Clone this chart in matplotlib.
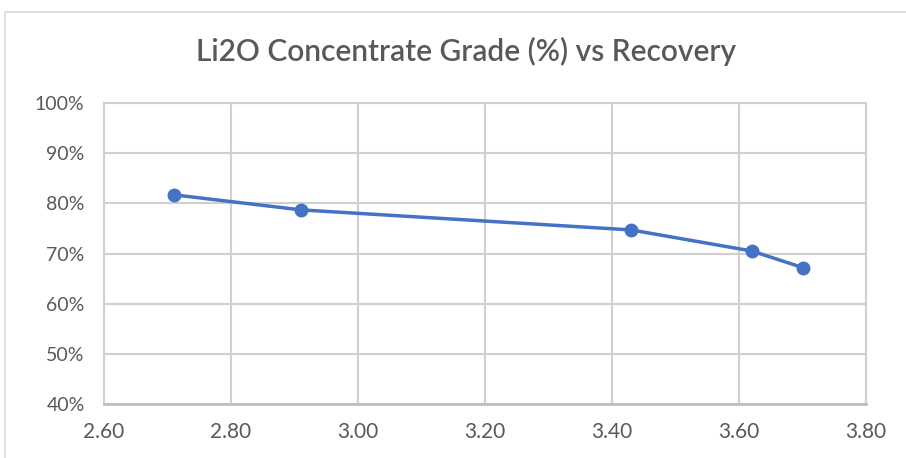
import matplotlib
matplotlib.use("Agg")
import matplotlib.pyplot as plt
from matplotlib.ticker import PercentFormatter
from matplotlib.patches import Rectangle

grade = [2.71, 2.91, 3.43, 3.62, 3.70]
recovery = [81.7, 78.7, 74.7, 70.5, 67.2]
xticks = [2.60, 2.80, 3.00, 3.20, 3.40, 3.60, 3.80]
yticks = [40, 50, 60, 70, 80, 90, 100]

plt.rcParams['font.family'] = ['Lato', 'DejaVu Sans']

fig = plt.figure(figsize=(9.06, 4.58), dpi=100)
fig.patches.append(Rectangle((0.0055, -0.05), 1.1, 0.024 + 1.0, transform=fig.transFigure,
                             fill=False, edgecolor='#d9d9d9', linewidth=1.2))
ax = fig.add_axes([0.1148, 0.118, 0.8412, 0.657])

ax.plot(grade, recovery, color='#4472C4', linewidth=2.5, marker='o', markersize=9, zorder=3)

ax.set_xlim(2.60, 3.80)
ax.set_ylim(40, 100)
ax.set_xticks(xticks)
ax.set_xticklabels([f"{t:.2f}" for t in xticks])
ax.set_yticks(yticks)
ax.yaxis.set_major_formatter(PercentFormatter(decimals=0))
ax.grid(True, color='#d0d0d0', linewidth=1.5)
ax.set_axisbelow(True)
for s in ['top', 'right', 'left']:
    ax.spines[s].set_color('#d0d0d0')
    ax.spines[s].set_linewidth(1.5)
ax.spines['bottom'].set_color('#bfbfbf')
ax.spines['bottom'].set_linewidth(2)
ax.tick_params(axis='y', length=0, labelsize=14, colors='#595959', pad=14)
ax.tick_params(axis='x', length=0, labelsize=15, colors='#595959', pad=13)

fig.text(0.514, 0.888, "Li2O Concentrate Grade (%) vs Recovery", ha='center', va='center',
         fontsize=21.5, fontweight='semibold', color='#595959')

fig.savefig("out.png", dpi=100)
